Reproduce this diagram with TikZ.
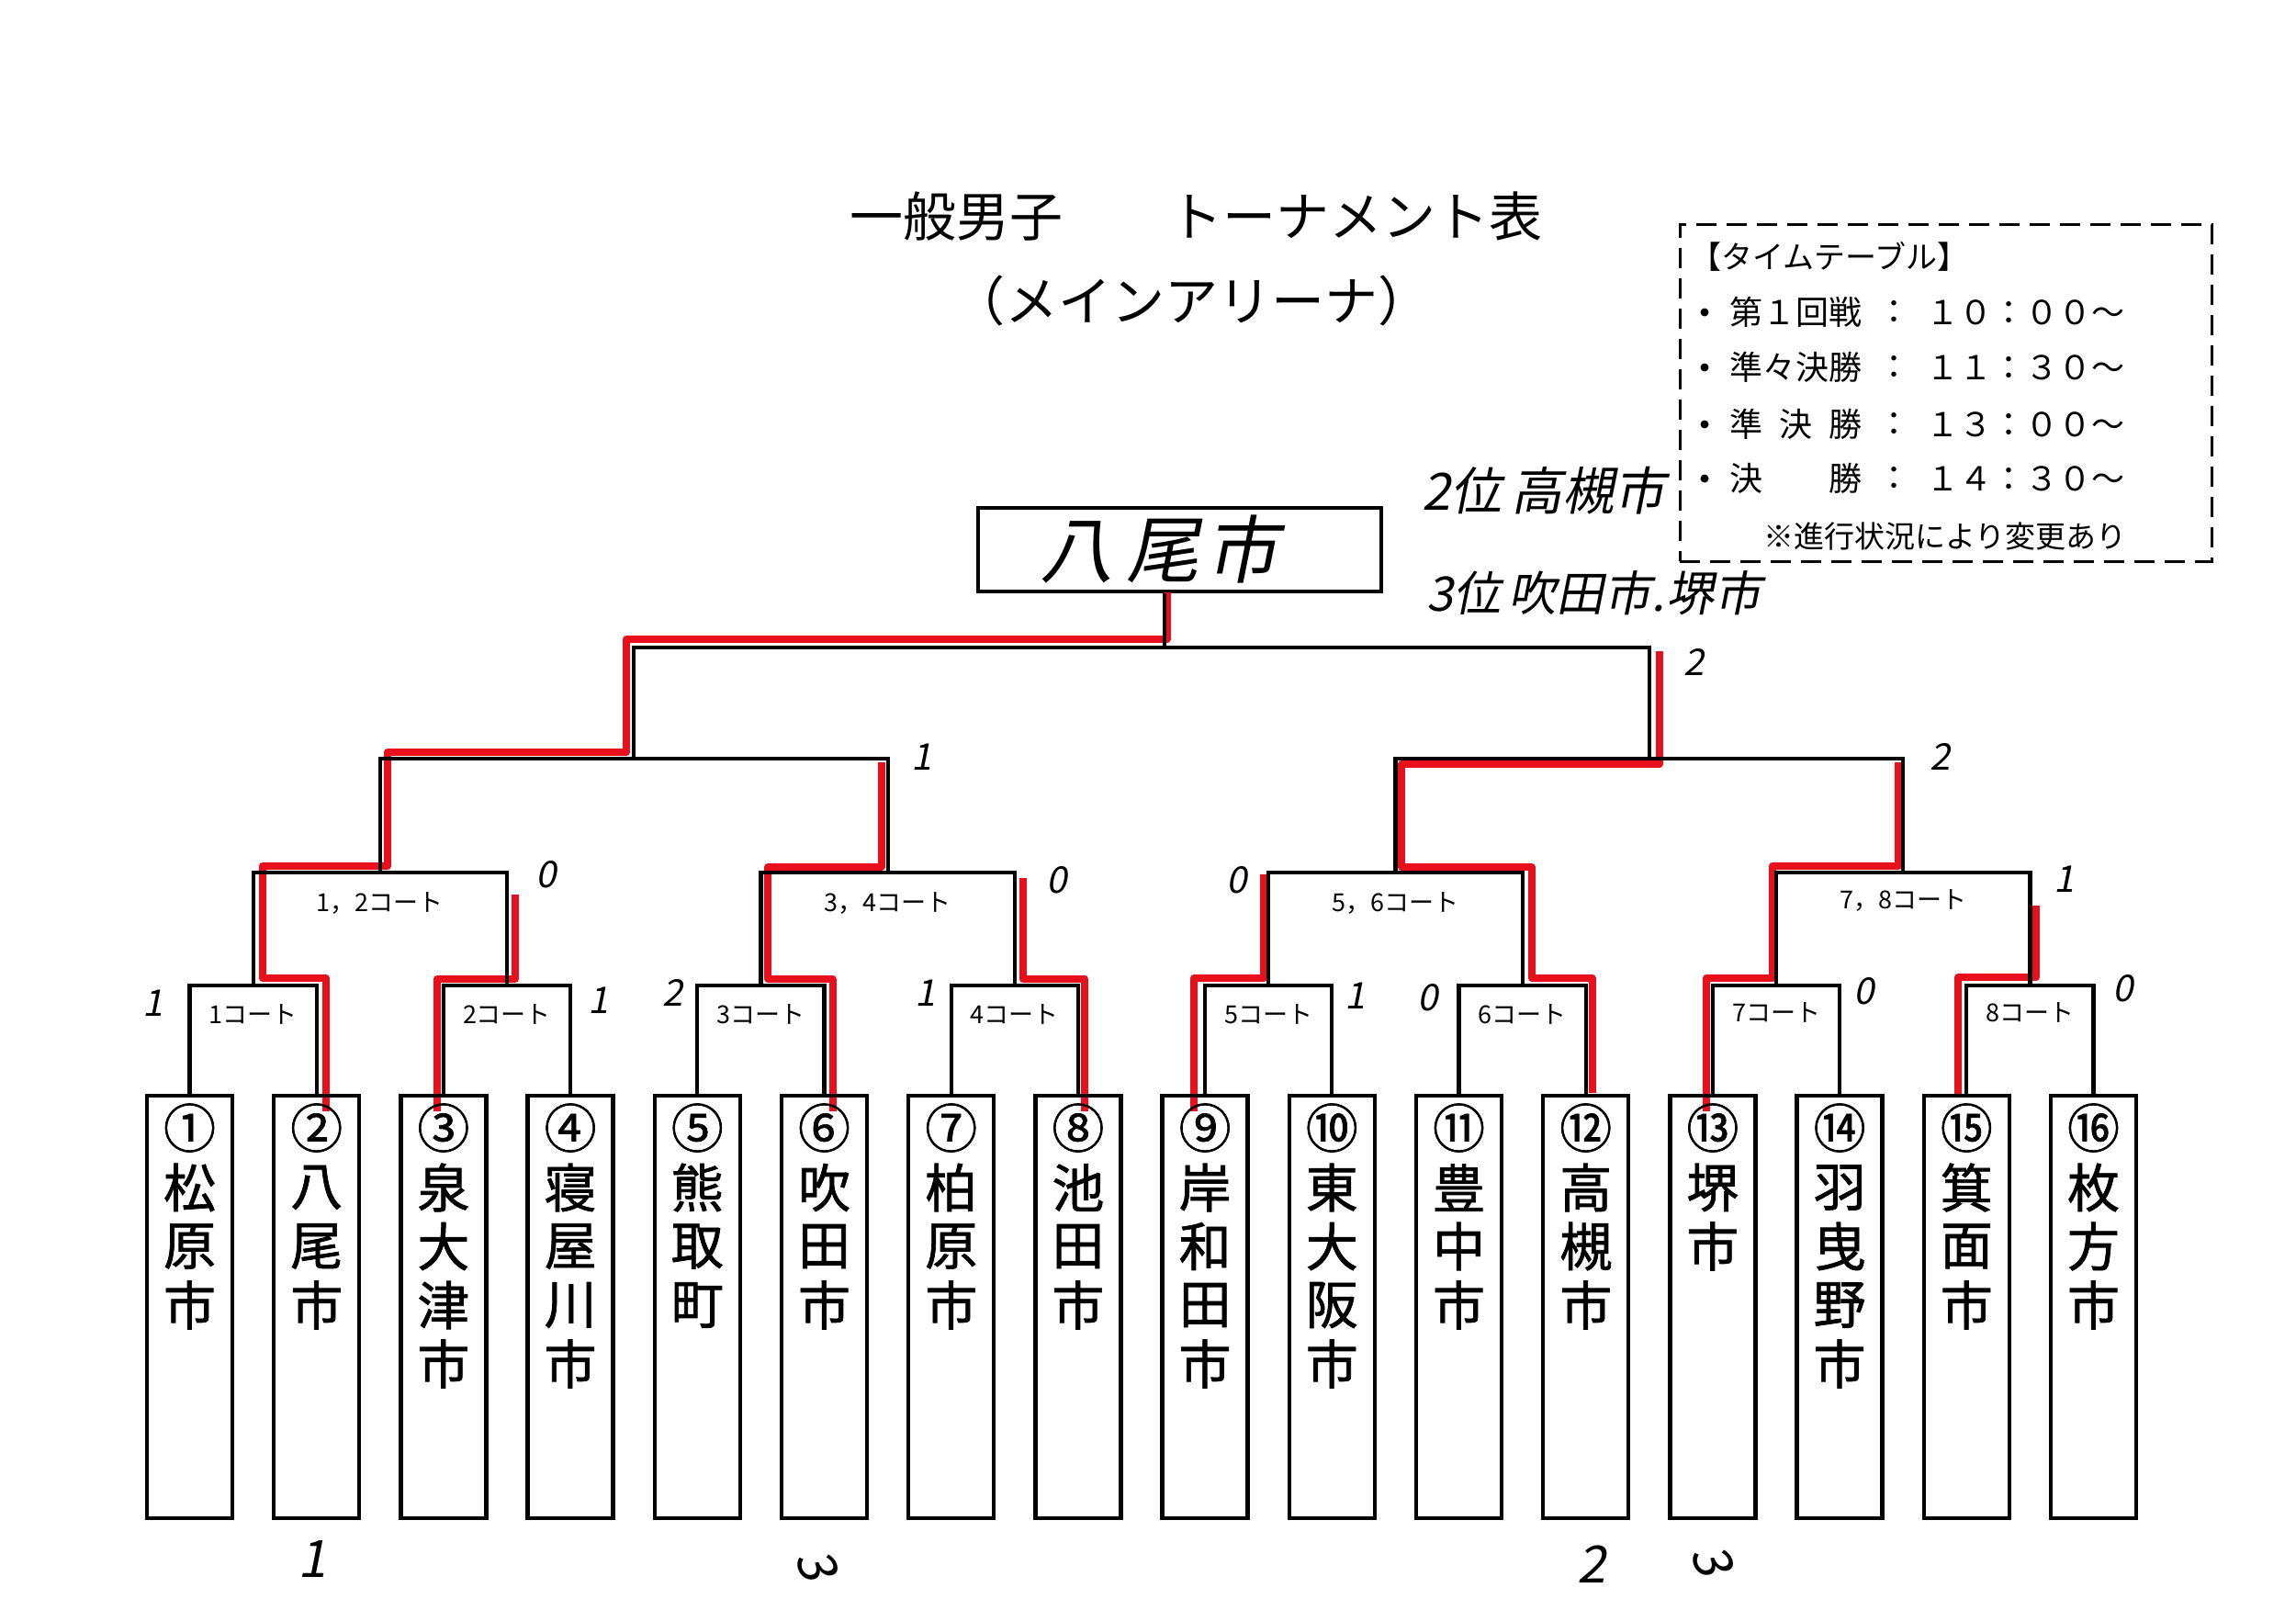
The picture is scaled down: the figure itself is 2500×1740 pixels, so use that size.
\documentclass[tikz,border=0pt]{standalone}
\usepackage{fontspec}
\setmainfont{Noto Sans CJK JP}
\newfontfamily\handfont{Noto Sans CJK JP}[FakeSlant=0.2]
\newfontfamily\teamfont{Noto Sans CJK JP}[FakeBold=1.2]
\definecolor{mkred}{RGB}{232,16,28}
\newcommand\teamcol[4]{%
  \node[tbox] (t#1) at (#2,1423) {};
  \node[tname] (n#1) at (#2,1228) {#3};
  \foreach \c [count=\k] in {#4} {\node[tname] (n#1-\k) at (#2,1229+64*\k) {\c};}
}
\begin{document}
\begin{tikzpicture}[x=1pt,y=-1pt,
  bline/.style={line width=4.2pt,line join=miter},
  rline/.style={line width=8pt,draw=mkred,line join=round},
  tbox/.style={draw,line width=4.5pt,minimum width=93pt,minimum height=460pt,inner sep=0pt},
  tname/.style={font=\teamfont\fontsize{57}{57}\selectfont,inner sep=0pt},
  clabel/.style={font=\fontsize{27}{27}\selectfont,inner sep=0pt},
  score/.style={font=\handfont\fontsize{40}{40}\selectfont,inner sep=0pt},
  bigscore/.style={font=\handfont\fontsize{56}{56}\selectfont,inner sep=0pt},
  tlabel/.style={font=\fontsize{36}{36}\selectfont,inner sep=0pt,anchor=west},
  tcolon/.style={font=\fontsize{36}{36}\selectfont,inner sep=0pt},
]
\useasboundingbox (0,0) rectangle (2500,1740);
\fill[white] (0,0) rectangle (2500,1740);

% title
\node[font=\fontsize{58}{58}\selectfont,inner sep=0pt] (title) at (1302,236) {一般男子　　トーナメント表};
\node[font=\fontsize{58}{58}\selectfont,inner sep=0pt] (subtitle) at (1297,327) {（メインアリーナ）};

% timetable
\node[draw,dash pattern=on 22pt off 11pt,line width=3pt,minimum width=579pt,minimum height=367pt,inner sep=0pt] (tt) at (2118.5,427.5) {};
\node[font=\fontsize{34}{34}\selectfont,inner sep=0pt,anchor=west] (tthead) at (1840,279) {【タイムテーブル】};
\foreach \y/\lab/\tm [count=\r] in {340/第１回戦/１０：００～,400/準々決勝/１１：３０～,462/準\hspace{0.5em}決\hspace{0.5em}勝/１３：００～,521/決\hspace{2em}勝/１４：３０～}{
  \fill (1856,\y) circle (4.5pt);
  \node[tlabel] (tl\r) at (1883,\y) {\lab};
  \node[tcolon] (tc\r) at (2062,\y) {：};
  \node[tlabel] (tm\r) at (2097,\y) {\tm};
}
\node[font=\fontsize{33}{33}\selectfont,inner sep=0pt] (ttnote) at (2118,584) {※進行状況により変更あり};

% winner and handwritten notes
\node[draw,line width=3.5pt,minimum width=439pt,minimum height=91pt,inner sep=0pt] (win) at (1284.5,598.5) {};
\node[font=\handfont\fontsize{80}{80}\selectfont,inner sep=0pt] (winname) at (1262,598) {八\hspace{14pt}尾\hspace{6pt}市};
\node[font=\handfont\fontsize{56}{56}\selectfont,anchor=west,inner sep=0pt] (second) at (1548,534) {2位\hspace{10pt}高槻市};
\node[font=\handfont\fontsize{52}{52}\selectfont,anchor=west,inner sep=0pt] (third) at (1553,646) {3位\hspace{8pt}吹田市.\hspace{2pt}堺市};

% red highlight (winning paths)
\draw[rline] (354.7,1210) -- (354.7,1065) -- (285.6,1065) -- (285.6,943) -- (421.8,943) -- (421.8,819) -- (682.2,819) -- (682.2,696) -- (1271,696) -- (1271,645);
\draw[rline] (475.9,1210) -- (475.9,1066) -- (561,1066) -- (561,974);
\draw[rline] (906.5,1210) -- (906.5,1066) -- (836.4,1066) -- (836.4,944) -- (959.6,944) -- (959.6,830);
\draw[rline] (1180.9,1210) -- (1180.9,1066) -- (1113.8,1066) -- (1113.8,956);
\draw[rline] (1300.1,1210) -- (1300.1,1065) -- (1376.2,1065) -- (1376.2,952);
\draw[rline] (1733.7,1190) -- (1733.7,1065) -- (1667.6,1065) -- (1667.6,944) -- (1526.4,944) -- (1526.4,832) -- (1806.8,832) -- (1806.8,709);
\draw[rline] (1857.9,1210) -- (1857.9,1065) -- (1930,1065) -- (1930,943) -- (2067.2,943) -- (2067.2,830);
\draw[rline] (2132.3,1195) -- (2132.3,1064) -- (2217.4,1064) -- (2217.4,986);

% teams
\teamcol{0}{206.5}{①}{松,原,市}
\teamcol{1}{344.7}{②}{八,尾,市}
\teamcol{2}{482.9}{③}{泉,大,津,市}
\teamcol{3}{621.1}{④}{寝,屋,川,市}
\teamcol{4}{759.3}{⑤}{熊,取,町}
\teamcol{5}{897.5}{⑥}{吹,田,市}
\teamcol{6}{1035.7}{⑦}{柏,原,市}
\teamcol{7}{1173.9}{⑧}{池,田,市}
\teamcol{8}{1312.1}{⑨}{岸,和,田,市}
\teamcol{9}{1450.3}{⑩}{東,大,阪,市}
\teamcol{10}{1588.5}{⑪}{豊,中,市}
\teamcol{11}{1726.7}{⑫}{高,槻,市}
\teamcol{12}{1864.9}{⑬}{堺,市}
\teamcol{13}{2003.1}{⑭}{羽,曳,野,市}
\teamcol{14}{2141.3}{⑮}{箕,面,市}
\teamcol{15}{2279.5}{⑯}{枚,方,市}

% bracket coordinates
\foreach \k/\x in {0/275.6,1/552.0,2/828.4,3/1104.8,4/1381.2,5/1657.6,6/1934.0,7/2210.4}
  \coordinate (m1-\k) at (\x,1073);
\foreach \k/\x in {0/413.8,1/966.6,2/1519.4,3/2072.2}
  \coordinate (m2-\k) at (\x,950);
\coordinate (m3-0) at (690.2,826);
\coordinate (m3-1) at (1795.8,826);
\coordinate (m4) at (1243,705);
\coordinate (wd) at (1268,705);

% first round
\draw[bline] (t0.north) |- (m1-0) -| (t1.north);
\draw[bline] (t2.north) |- (m1-1) -| (t3.north);
\draw[bline] (t4.north) |- (m1-2) -| (t5.north);
\draw[bline] (t6.north) |- (m1-3) -| (t7.north);
\draw[bline] (t8.north) |- (m1-4) -| (t9.north);
\draw[bline] (t10.north) |- (m1-5) -| (t11.north);
\draw[bline] (t12.north) |- (m1-6) -| (t13.north);
\draw[bline] (t14.north) |- (m1-7) -| (t15.north);
% quarterfinals
\draw[bline] (m1-0) |- (m2-0) -| (m1-1);
\draw[bline] (m1-2) |- (m2-1) -| (m1-3);
\draw[bline] (m1-4) |- (m2-2) -| (m1-5);
\draw[bline] (m1-6) |- (m2-3) -| (m1-7);
% semifinals
\draw[bline] (m2-0) |- (m3-0) -| (m2-1);
\draw[bline] (m2-2) |- (m3-1) -| (m2-3);
% final
\draw[bline] (m3-0) |- (m4) -| (m3-1);
\draw[bline] (win.south -| wd) -- (wd);

% court labels
\node[clabel] (c1) at (275.6,1104) {1コート};
\node[clabel] (c2) at (552.0,1104) {2コート};
\node[clabel] (c3) at (828.4,1104) {3コート};
\node[clabel] (c4) at (1104.8,1104) {4コート};
\node[clabel] (c5) at (1381.2,1104) {5コート};
\node[clabel] (c6) at (1657.6,1104) {6コート};
\node[clabel] (c7) at (1934.0,1102) {7コート};
\node[clabel] (c8) at (2210.4,1102) {8コート};
\node[clabel] (c12) at (413.8,983) {1，2コート};
\node[clabel] (c34) at (966.6,983) {3，4コート};
\node[clabel] (c56) at (1519.4,983) {5，6コート};
\node[clabel] (c78) at (2072.2,980) {7，8コート};

% handwritten scores
\node[score] (s1) at (167,1092) {1};
\node[score] (s2) at (595,952) {0};
\node[score] (s3) at (652,1089) {1};
\node[score] (s4) at (733,1081) {2};
\node[score] (s5) at (1004,824) {1};
\node[score] (s6) at (1008,1081) {1};
\node[score] (s7) at (1151,958) {0};
\node[score] (s8) at (1347,958) {0};
\node[score] (s9) at (1476,1084) {1};
\node[score] (s10) at (1555,1086) {0};
\node[score] (s11) at (1845,721) {2};
\node[score] (s12) at (2113,824) {2};
\node[score] (s13) at (2030,1079) {0};
\node[score] (s14) at (2248,957) {1};
\node[score] (s15) at (2312,1076) {0};
\node[bigscore] (p1) at (340,1698) {1};
\node[bigscore,rotate=-70] (p3a) at (890,1703) {3};
\node[bigscore] (p2) at (1733,1703) {2};
\node[bigscore,rotate=-70] (p3b) at (1865,1698) {3};
\end{tikzpicture}
\end{document}
